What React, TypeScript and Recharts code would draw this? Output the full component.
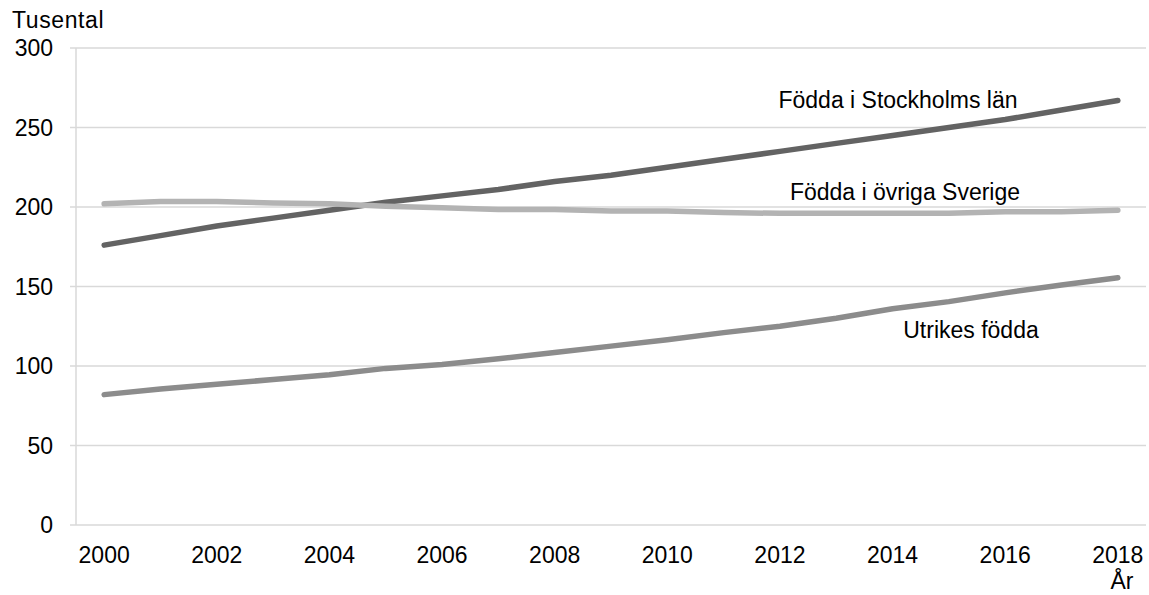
import React from 'react';
import { LineChart, Line, XAxis, YAxis, CartesianGrid } from 'recharts';

const years = [2000, 2001, 2002, 2003, 2004, 2005, 2006, 2007, 2008, 2009, 2010, 2011, 2012, 2013, 2014, 2015, 2016, 2017, 2018];
const stockholm = [176, 182, 188, 193, 198, 203, 207, 211, 216, 220, 225, 230, 235, 240, 245, 250, 255, 261, 267];
const ovrigaSverige = [202, 203.5, 203.5, 202.5, 202, 200.5, 199.5, 198.5, 198.5, 197.5, 197.5, 196.5, 196, 196, 196, 196, 197, 197, 198];
const utrikes = [82, 85.5, 88.5, 91.5, 94.5, 98.5, 101, 104.5, 108.5, 112.5, 116.5, 121, 125, 130, 136, 140.5, 146, 151, 155.5];

const yTicks = [0, 50, 100, 150, 200, 250, 300];
const xLabelTicks = [2000, 2002, 2004, 2006, 2008, 2010, 2012, 2014, 2016, 2018];
const xBoundaryTicks = [...years.map((y) => y - 0.5), 2018.5];

const yUnit = 'Tusental';
const xUnit = 'År';
const seriesNames = ['Födda i Stockholms län', 'Födda i övriga Sverige', 'Utrikes födda'];

const data = years.map((year, i) => ({
  year,
  stockholm: stockholm[i],
  ovriga: ovrigaSverige[i],
  utrikes: utrikes[i],
}));

const FONT = '"Liberation Sans", Arial, sans-serif';
const GRID = '#d9d9d9';

export default function App() {
  return (
    <div style={{ position: 'absolute', left: 0, top: 0, width: 1149, height: 595, background: '#fff' }}>
      <LineChart width={1149} height={595} data={data} margin={{ top: 48, right: 3, bottom: 30, left: 0 }}>
        <CartesianGrid vertical={false} stroke={GRID} strokeWidth={1.5} />
        <XAxis
          xAxisId="marks"
          dataKey="year"
          type="number"
          domain={[1999.5, 2018.5]}
          ticks={xBoundaryTicks}
          interval={0}
          height={0}
          tick={false}
          tickSize={7}
          stroke={GRID}
          axisLine={{ stroke: GRID, strokeWidth: 1.5 }}
          tickLine={{ stroke: GRID, strokeWidth: 1.5 }}
        />
        <XAxis
          xAxisId="labels"
          dataKey="year"
          type="number"
          domain={[1999.5, 2018.5]}
          ticks={xLabelTicks}
          interval={0}
          height={40}
          axisLine={false}
          tickLine={false}
          tickSize={0}
          tickMargin={22}
          tick={{ fill: '#000', fontSize: 23, fontFamily: FONT }}
        />
        <YAxis
          domain={[0, 300]}
          ticks={yTicks}
          interval={0}
          width={76}
          tickSize={6}
          tickMargin={17}
          axisLine={{ stroke: GRID, strokeWidth: 1.5 }}
          tickLine={{ stroke: GRID, strokeWidth: 1.5 }}
          tick={{ fill: '#000', fontSize: 23, fontFamily: FONT }}
        />
        <Line xAxisId="marks" type="linear" dataKey="utrikes" stroke="#8c8c8c" strokeWidth={5.5} strokeLinecap="round" strokeLinejoin="round" dot={false} activeDot={false} isAnimationActive={false} />
        <Line xAxisId="marks" type="linear" dataKey="stockholm" stroke="#636363" strokeWidth={5.5} strokeLinecap="round" strokeLinejoin="round" dot={false} activeDot={false} isAnimationActive={false} />
        <Line xAxisId="marks" type="linear" dataKey="ovriga" stroke="#b3b3b3" strokeWidth={5.5} strokeLinecap="round" strokeLinejoin="round" dot={false} activeDot={false} isAnimationActive={false} />
      </LineChart>
      <svg width={1149} height={595} style={{ position: 'absolute', left: 0, top: 0, pointerEvents: 'none' }}>
        <g fontFamily={FONT} fontSize={23} fill="#000">
          <text x={12} y={28} letterSpacing={0.6}>{yUnit}</text>
          <text x={1122} y={589} textAnchor="middle">{xUnit}</text>
          <text x={898} y={108} textAnchor="middle">{seriesNames[0]}</text>
          <text x={905} y={200} textAnchor="middle">{seriesNames[1]}</text>
          <text x={971} y={338} textAnchor="middle">{seriesNames[2]}</text>
        </g>
      </svg>
    </div>
  );
}
